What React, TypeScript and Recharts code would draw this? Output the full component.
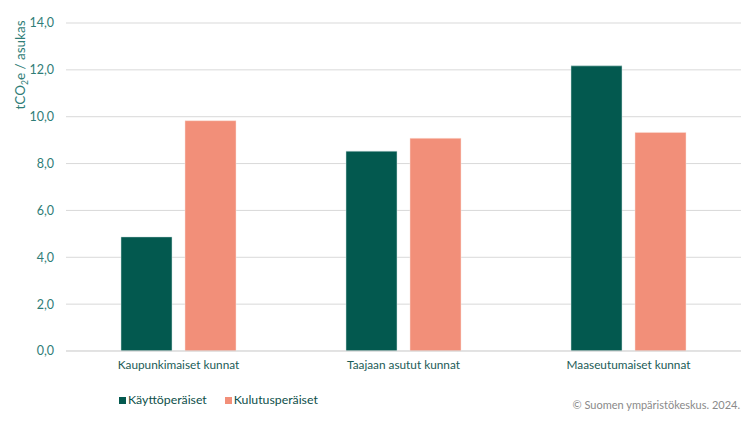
import React from 'react';
import { BarChart, Bar, XAxis, YAxis, CartesianGrid } from 'recharts';

const categories = ['Kaupunkimaiset kunnat', 'Taajaan asutut kunnat', 'Maaseutumaiset kunnat'];
const kayttoperaiset = [4.87, 8.53, 12.17];
const kulutusperaiset = [9.83, 9.08, 9.33];
const yTicks = [0, 2, 4, 6, 8, 10, 12, 14];
const seriesNames = ['Käyttöperäiset', 'Kulutusperäiset'];

const DARK = '#03594f';
const SALMON = '#f28f79';
const FONT = 'Lato, "Open Sans", sans-serif';

const data = categories.map((name, i) => ({
  name,
  kaytto: kayttoperaiset[i],
  kulutus: kulutusperaiset[i],
}));

const fmt = (v: number) => v.toFixed(1).replace('.', ',');

const YLabel = () => {
  const x = 25;
  const y = 65;
  return (
    <text
      x={x}
      y={y}
      transform={`rotate(-90 ${x} ${y})`}
      textAnchor="middle"
      fill="#2f7d77"
      fontSize={13.5}
      fontFamily={FONT}
    >
      tCO
      <tspan fontSize={8.5} dy={3}>2</tspan>
      <tspan dy={-3}>e / asukas</tspan>
    </text>
  );
};

export default function App() {
  return (
    <div style={{ position: 'relative', width: 750, height: 422, background: '#fff' }}>
      <style>{`body{margin:0}`}</style>
      <BarChart
        width={750}
        height={422}
        data={data}
        margin={{ top: 23, right: 9, left: 0, bottom: 0 }}
        barSize={51}
        barGap={13}
      >
        <CartesianGrid vertical={false} stroke="#d9d9d9" strokeWidth={1} />
        <XAxis
          dataKey="name"
          height={71}
          axisLine={{ stroke: '#d9d9d9' }}
          tickLine={false}
          tickMargin={4}
          tick={{ fill: '#1b5c57', fontSize: 11.8, fontFamily: FONT }}
          interval={0}
        />
        <YAxis
          width={66}
          domain={[0, 14]}
          ticks={yTicks}
          tickFormatter={fmt}
          axisLine={false}
          tickLine={false}
          tickMargin={6}
          tick={{ fill: '#2f7d77', fontSize: 12.5, fontFamily: FONT }}
          label={<YLabel />}
        />
        <Bar dataKey="kaytto" name={seriesNames[0]} fill={DARK} stroke="#cfe3e0" strokeWidth={0.5} isAnimationActive={false} />
        <Bar dataKey="kulutus" name={seriesNames[1]} fill={SALMON} stroke="#fbe0d8" strokeWidth={0.5} isAnimationActive={false} />
      </BarChart>
      <div
        style={{
          position: 'absolute',
          left: 119,
          top: 391,
          display: 'flex',
          gap: 18,
          fontFamily: FONT,
          fontSize: 12.3,
          color: '#0d4f4a',
          lineHeight: '18px',
        }}
      >
        {seriesNames.map((label, i) => (
          <span key={label} style={{ display: 'flex', alignItems: 'center', gap: 2 }}>
            <span style={{ width: 7, height: 7, background: i === 0 ? DARK : SALMON, display: 'inline-block' }} />
            {label}
          </span>
        ))}
      </div>
      <div
        style={{
          position: 'absolute',
          right: 10,
          top: 398,
          fontFamily: FONT,
          fontSize: 11,
          color: '#8a8a8a',
        }}
      >
        © Suomen ympäristökeskus. 2024.
      </div>
    </div>
  );
}
